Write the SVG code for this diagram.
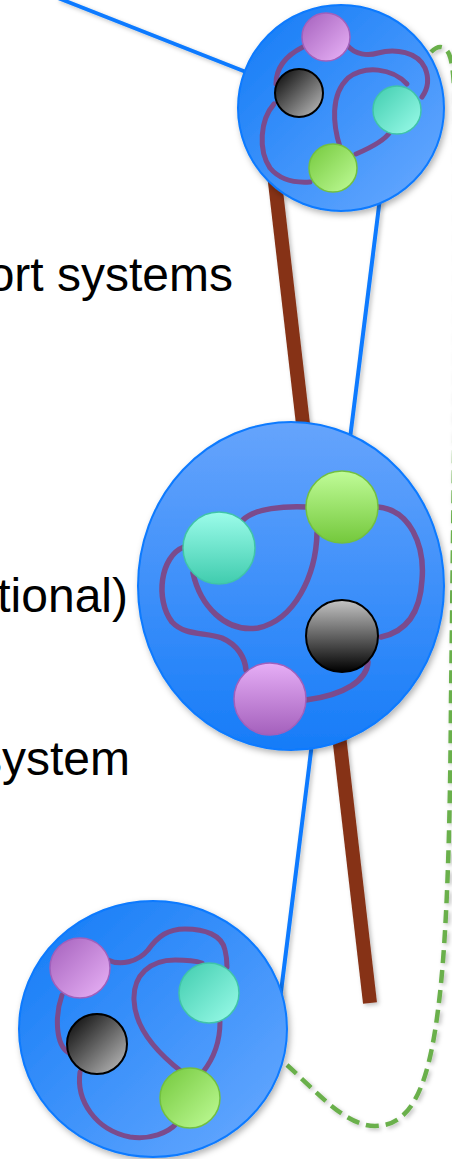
<svg xmlns="http://www.w3.org/2000/svg" width="452" height="1159" viewBox="0 0 452 1159">
<defs>
<style>
.txt{font-family:"Liberation Sans",Arial,sans-serif;font-size:48px;fill:#000;text-anchor:end}
.big{stroke:#0a7aff;stroke-width:2;filter:url(#sh)}
.link{fill:none;stroke:#7b4b8c;stroke-linecap:round}
.pu{stroke:#a060bc;stroke-width:1.5}
.te{stroke:#40c4a8;stroke-width:1.5}
.gr{stroke:#72c040;stroke-width:1.5}
.bk{stroke:#000;stroke-width:2}
</style>
<filter id="sh" x="-20%" y="-20%" width="140%" height="140%"><feDropShadow dx="2" dy="3" stdDeviation="3" flood-color="#000" flood-opacity="0.3"/></filter>
<filter id="lsh" x="-50%" y="-10%" width="200%" height="120%"><feDropShadow dx="2" dy="2" stdDeviation="2" flood-color="#000" flood-opacity="0.25"/></filter>
<linearGradient id="bD" x1="0" y1="0" x2="1" y2="1"><stop offset="0" stop-color="#107af6"/><stop offset="1" stop-color="#6aaaff"/></linearGradient>
<linearGradient id="bV" x1="0" y1="0" x2="0" y2="1"><stop offset="0" stop-color="#66a4fc"/><stop offset="1" stop-color="#167cf8"/></linearGradient>
<linearGradient id="pD" x1="0" y1="0" x2="1" y2="1"><stop offset="0" stop-color="#a460bc"/><stop offset="1" stop-color="#eab4f8"/></linearGradient>
<linearGradient id="tD" x1="0" y1="0" x2="1" y2="1"><stop offset="0" stop-color="#40ccae"/><stop offset="1" stop-color="#9cfcea"/></linearGradient>
<linearGradient id="gD" x1="0" y1="0" x2="1" y2="1"><stop offset="0" stop-color="#74c83c"/><stop offset="1" stop-color="#c0fc98"/></linearGradient>
<linearGradient id="kD" x1="0" y1="0" x2="1" y2="1"><stop offset="0" stop-color="#000"/><stop offset="1" stop-color="#c4c4c4"/></linearGradient>
<linearGradient id="pV" x1="0" y1="1" x2="0" y2="0"><stop offset="0" stop-color="#a460bc"/><stop offset="1" stop-color="#e6aef6"/></linearGradient>
<linearGradient id="tV" x1="0" y1="1" x2="0" y2="0"><stop offset="0" stop-color="#40ccae"/><stop offset="1" stop-color="#9cfcea"/></linearGradient>
<linearGradient id="gV" x1="0" y1="1" x2="0" y2="0"><stop offset="0" stop-color="#74c83c"/><stop offset="1" stop-color="#c0fc98"/></linearGradient>
<linearGradient id="kV" x1="0" y1="1" x2="0" y2="0"><stop offset="0" stop-color="#000"/><stop offset="1" stop-color="#c4c4c4"/></linearGradient>
</defs>
<rect width="452" height="1159" fill="#fff"/>
<g id="labels">
<text class="txt" x="233" y="291">ort systems</text>
<text class="txt" x="128" y="612">tional)</text>
<text class="txt" x="130" y="775">system</text>
</g>
<g id="connectors" filter="url(#lsh)">
<line x1="58" y1="-2" x2="246" y2="72" stroke="#0a7aff" stroke-width="4"/>
<line x1="273" y1="165" x2="370" y2="1003" stroke="#863317" stroke-width="14"/>
<line x1="381" y1="190" x2="280" y2="1000" stroke="#0a7aff" stroke-width="4"/>
<path d="M287,1065 C315,1090 345,1126 375,1126 C410,1126 428,1090 438,1010 C446,950 450,850 451,700 L456,300 C456,120 456,70 449,54 C444,44 437,46 431,52" fill="none" stroke="#6ab04c" stroke-width="4.5" stroke-dasharray="13 7"/>
</g>
<g id="node-top">
<circle class="big" cx="341" cy="108" r="103" fill="url(#bD)"/>
<g class="link" stroke-width="5">
<path d="M303,47 C285,56 276,68 276,84"/>
<path d="M274,104 C260,120 258,150 270,168 C280,180 296,183 310,182"/>
<path d="M347,45 C355,55 368,56 378,53 C395,48 418,52 425,68 C430,80 427,90 422,97"/>
<path d="M390,132 C385,140 370,148 356,154"/>
<path d="M340,147 C333,125 330,95 348,78 C365,65 392,68 407,84"/>
</g>
<circle class="pu" cx="326" cy="37" r="24" fill="url(#pD)"/>
<circle class="bk" cx="299" cy="93" r="24" fill="url(#kD)"/>
<circle class="te" cx="397" cy="110" r="24" fill="url(#tD)"/>
<circle class="gr" cx="333" cy="168" r="24" fill="url(#gD)"/>
</g>
<g id="node-middle">
<ellipse class="big" cx="291" cy="586" rx="153" ry="164" fill="url(#bV)"/>
<g class="link" stroke-width="5.5">
<path d="M243,520 C255,508 285,506 307,507"/>
<path d="M317,533 C316,575 295,620 258,628 C225,633 200,605 193,573"/>
<path d="M184,547 C160,556 155,600 172,622 C185,636 205,632 222,638 C238,645 245,658 246,670"/>
<path d="M378,507 C410,510 425,545 422,580 C420,615 405,632 381,637"/>
<path d="M368,662 C367,680 345,695 306,700"/>
</g>
<circle class="gr" cx="342" cy="507" r="36" fill="url(#gV)"/>
<circle class="te" cx="219" cy="548" r="36" fill="url(#tV)"/>
<circle class="bk" cx="342" cy="636" r="36" fill="url(#kV)"/>
<circle class="pu" cx="270" cy="699" r="36" fill="url(#pV)"/>
</g>
<g id="node-bottom">
<ellipse class="big" cx="153" cy="1029" rx="134" ry="128" fill="url(#bD)"/>
<g class="link" stroke-width="5">
<path d="M108,960 C120,966 138,962 148,950 C158,936 168,929 185,929 C205,929 222,935 225,950 C227,958 227,962 227,967"/>
<path d="M62,995 C55,1015 55,1045 69,1053"/>
<path d="M80,1072 C76,1100 95,1130 130,1137 C150,1140 168,1133 177,1123"/>
<path d="M182,1072 C160,1055 135,1030 134,1000 C133,975 150,960 175,960 C188,960 196,961 202,963"/>
<path d="M220,1022 C220,1040 214,1058 203,1072"/>
</g>
<circle class="pu" cx="80" cy="968" r="30" fill="url(#pD)"/>
<circle class="te" cx="209" cy="993" r="30" fill="url(#tD)"/>
<circle class="bk" cx="97" cy="1044" r="30" fill="url(#kD)"/>
<circle class="gr" cx="190" cy="1098" r="30" fill="url(#gD)"/>
</g>
</svg>
